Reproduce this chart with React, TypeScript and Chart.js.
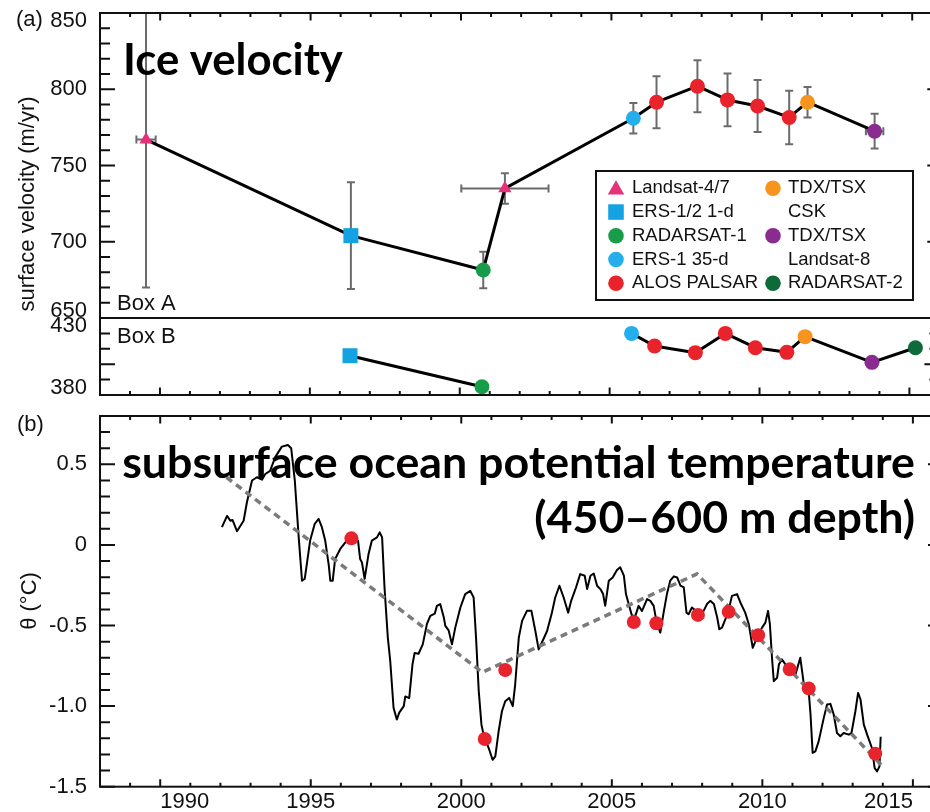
import { useEffect, useRef } from 'react';
import { Chart, registerables } from 'chart.js';

Chart.register(...registerables);

const FONT = '"Liberation Sans", Arial, Helvetica, sans-serif';
const HEAVY = 'Lato, "Open Sans", "Noto Sans", sans-serif';

// ---------- shared time axis ----------
const YEAR_MIN = 1988;
const YEAR_MAX = 2016;
const YEAR_TICKS = [1990, 1995, 2000, 2005, 2010, 2015];

// ---------- sensors ----------
const SENSOR_NAMES = [
  'Landsat-4/7',
  'ERS-1/2 1-d',
  'RADARSAT-1',
  'ERS-1 35-d',
  'ALOS PALSAR',
  'TDX/TSX\nCSK',
  'TDX/TSX\nLandsat-8',
  'RADARSAT-2',
];
const SENSOR_COLORS = ['#e6307a', '#14a2e2', '#179c4a', '#25aeec', '#e8232b', '#f7941d', '#8a2b8f', '#0e6a39'];
const SENSOR_SHAPES = ['triangle', 'rect', 'circle', 'circle', 'circle', 'circle', 'circle', 'circle'];

// ---------- (a) surface velocity, Box A ----------
const BOX_A_YEARS = [1989.53, 1996.34, 2000.74, 2001.46, 2005.73, 2006.5, 2007.86, 2008.86, 2009.86, 2010.91, 2011.52, 2013.75];
const BOX_A_SPEED = [767, 704, 681.5, 735, 781, 791.5, 802, 793, 789, 781.5, 791.5, 772.5];
const BOX_A_SPEED_ERR = [97, 35, 12, 10, 10, 17, 17, 17.3, 17, 17.5, 10, 11.4];
const BOX_A_YEAR_ERR = [0.32, 0, 0, 1.45, 0, 0, 0, 0, 0, 0, 0, 0.29];
const BOX_A_SENSOR = [0, 1, 2, 0, 3, 4, 4, 4, 4, 4, 5, 6];
const BOX_A_TICKS = [650, 700, 750, 800, 850];

// ---------- (a) surface velocity, Box B ----------
const BOX_B_YEARS = [1996.34, 2000.74, 2005.73, 2006.5, 2007.86, 2008.86, 2009.86, 2010.91, 2011.52, 2013.75, 2015.2];
const BOX_B_SPEED = [405.5, 385.4, 420, 411.8, 407.5, 420, 410.7, 407.7, 417.9, 401.2, 410.7];
const BOX_B_SENSOR = [1, 2, 3, 4, 4, 4, 4, 4, 5, 6, 7];
const BOX_B_RUN = [0, 0, 1, 1, 1, 1, 1, 1, 1, 1, 1];
const BOX_B_TICKS = [380, 430];

// ---------- (b) subsurface ocean potential temperature ----------
const THETA_YEARS = [
  1992.05, 1992.22, 1992.33, 1992.4, 1992.55, 1992.77, 1992.88, 1993.05, 1993.21, 1993.38,
  1993.49, 1993.65, 1993.82, 1994.04, 1994.24, 1994.35, 1994.47, 1994.6, 1994.71, 1994.8,
  1994.98, 1995.13, 1995.26, 1995.37, 1995.48, 1995.6, 1995.65, 1995.73, 1995.81, 1995.98,
  1996.15, 1996.42, 1996.57, 1996.64, 1996.7, 1996.79, 1996.92, 1997.03, 1997.2, 1997.29,
  1997.37, 1997.45, 1997.56, 1997.64, 1997.75, 1997.86, 1997.94, 1998.09, 1998.14, 1998.27,
  1998.38, 1998.45, 1998.58, 1998.72, 1998.86, 1998.97, 1999.12, 1999.19, 1999.3, 1999.42,
  1999.47, 1999.58, 1999.69, 1999.8, 1999.97, 2000.13, 2000.3, 2000.41, 2000.49, 2000.58,
  2000.67, 2000.74, 2000.91, 2001.04, 2001.13, 2001.24, 2001.35, 2001.46, 2001.59, 2001.71,
  2001.79, 2001.91, 2002.02, 2002.18, 2002.33, 2002.46, 2002.57, 2002.7, 2002.85, 2003.01,
  2003.12, 2003.26, 2003.4, 2003.55, 2003.65, 2003.81, 2003.95, 2004.1, 2004.18, 2004.29,
  2004.4, 2004.51, 2004.62, 2004.71, 2004.78, 2004.9, 2005.03, 2005.17, 2005.28, 2005.4,
  2005.47, 2005.56, 2005.67, 2005.78, 2005.89, 2006.0, 2006.17, 2006.28, 2006.39, 2006.5,
  2006.61, 2006.72, 2006.83, 2006.94, 2007.06, 2007.17, 2007.28, 2007.39, 2007.48, 2007.55,
  2007.66, 2007.86, 2008.05, 2008.16, 2008.27, 2008.39, 2008.5, 2008.57, 2008.66, 2008.86,
  2008.99, 2009.16, 2009.27, 2009.43, 2009.55, 2009.68, 2009.82, 2009.99, 2010.1, 2010.19,
  2010.25, 2010.32, 2010.38, 2010.49, 2010.55, 2010.65, 2010.88, 2011.1, 2011.26, 2011.38,
  2011.54, 2011.6, 2011.67, 2011.76, 2011.87, 2012.04, 2012.15, 2012.26, 2012.37, 2012.48,
  2012.59, 2012.7, 2012.87, 2012.96, 2013.09, 2013.18, 2013.26, 2013.37, 2013.48, 2013.64,
  2013.73, 2013.81, 2013.89, 2013.93,
];
const THETA = [
  0.11, 0.18, 0.15, 0.155, 0.085, 0.15, 0.265, 0.4, 0.42, 0.405,
  0.44, 0.46, 0.545, 0.61, 0.62, 0.6, 0.4, 0.047, -0.222, -0.21,
  0.027, 0.13, 0.162, 0.11, 0.027, -0.129, -0.222, -0.222, -0.087, -0.025,
  0.016, 0.047, 0.027, -0.087, -0.108, -0.21, -0.056, 0.027, 0.047, 0.078,
  0.047, -0.264, -0.575, -0.72, -1.01, -1.083, -1.04, -1.0, -0.94, -0.95,
  -0.74, -0.67, -0.675, -0.617, -0.49, -0.44, -0.426, -0.378, -0.367, -0.45,
  -0.502, -0.53, -0.617, -0.513, -0.388, -0.305, -0.285, -0.326, -0.575, -0.907,
  -1.115, -1.177, -1.26, -1.333, -1.312, -1.156, -1.032, -0.97, -0.949, -1.0,
  -0.866, -0.575, -0.471, -0.409, -0.409, -0.534, -0.648, -0.596, -0.534, -0.42,
  -0.326, -0.253, -0.326, -0.42, -0.347, -0.264, -0.181, -0.191, -0.274, -0.191,
  -0.177, -0.253, -0.274, -0.305, -0.378, -0.222, -0.202, -0.156, -0.139, -0.191,
  -0.305, -0.367, -0.44, -0.44, -0.378, -0.41, -0.336, -0.347, -0.378, -0.492,
  -0.544, -0.42, -0.305, -0.222, -0.195, -0.202, -0.253, -0.264, -0.42, -0.43,
  -0.388, -0.42, -0.409, -0.367, -0.347, -0.367, -0.45, -0.523, -0.513, -0.42,
  -0.316, -0.305, -0.357, -0.42, -0.492, -0.638, -0.575, -0.513, -0.482, -0.409,
  -0.492, -0.7, -0.845, -0.824, -0.741, -0.71, -0.772, -0.803, -0.7, -0.866,
  -0.907, -1.052, -1.29, -1.281, -1.219, -1.073, -0.99, -0.986, -1.052, -1.167,
  -1.187, -1.167, -1.177, -1.167, -1.032, -0.918, -0.959, -1.115, -1.177, -1.26,
  -1.385, -1.405, -1.374, -1.19,
];
const TREND_YEARS = [1992.2, 2000.7, 2007.83, 2013.98];
const TREND = [0.42, -0.79, -0.18, -1.37];
const SAMPLE_YEARS = [1996.35, 2000.78, 2001.46, 2005.73, 2006.48, 2007.86, 2008.88, 2009.86, 2010.91, 2011.54, 2013.75];
const SAMPLE_THETA = [0.041, -1.204, -0.776, -0.478, -0.486, -0.434, -0.415, -0.56, -0.772, -0.89, -1.295];
const THETA_TICKS = [-1.5, -1.0, -0.5, 0, 0.5];
const THETA_TICK_LABELS = ['-1.5', '-1.0', '-0.5', '0', '0.5'];

// ---------- page geometry ----------
const CANVAS_W = 950; // the right frame edge sits just past the visible page
const FRAME_LEFT = 100;
const FRAME_RIGHT = 943;
const A_TOP = 13;
const A_BOTTOM = 318;
const B_BOTTOM = 395;
const T_TOP = 416;
const T_BOTTOM = 786.7;
const SHORT_H = 812;
const TALL_H = 830;
const X_TICK_PAD = 2;
const X_LABEL_BAND = 22 * 1.2 + 2 * X_TICK_PAD;

const MARK_R: Record<string, number> = { triangle: 7.7, rect: 10.6, circle: 7.5 };
const LEGEND_R: Record<string, number> = { triangle: 9.5, rect: 11, circle: 7.8 };
const ERR_CAP = 4;

function shapePath(ctx: CanvasRenderingContext2D, shape: string, x: number, y: number, r: number) {
  ctx.beginPath();
  if (shape === 'triangle') {
    const k = (2 * Math.PI) / 3;
    for (let i = 0; i < 3; i++) {
      const a = i * k;
      const px = x + Math.sin(a) * r;
      const py = y - Math.cos(a) * r;
      if (i === 0) ctx.moveTo(px, py);
      else ctx.lineTo(px, py);
    }
    ctx.closePath();
  } else if (shape === 'rect') {
    const s = r * Math.SQRT1_2;
    ctx.rect(x - s, y - s, 2 * s, 2 * s);
  } else {
    ctx.arc(x, y, r, 0, Math.PI * 2);
  }
}

function text(ctx: CanvasRenderingContext2D, s: string, x: number, y: number, align: CanvasTextAlign = 'left', size = 22) {
  ctx.font = `${size}px ${FONT}`;
  ctx.fillStyle = '#111';
  ctx.textAlign = align;
  ctx.textBaseline = 'middle';
  ctx.fillText(s, x, y);
}

function rotatedText(ctx: CanvasRenderingContext2D, s: string, x: number, y: number) {
  ctx.save();
  ctx.translate(x, y);
  ctx.rotate(-Math.PI / 2);
  text(ctx, s, 0, 0, 'center');
  ctx.restore();
}

function fittedBold(ctx: CanvasRenderingContext2D, s: string, width: number) {
  ctx.font = `bold 100px ${HEAVY}`;
  return (100 * width) / ctx.measureText(s).width;
}

// y tick labels kept inside their own panel
function panelYLabels(chart: any, values: number[]) {
  const { ctx, chartArea: a } = chart;
  const y = chart.scales.y;
  const half = 7.5;
  values.forEach((v) => {
    const py = Math.min(Math.max(y.getPixelForValue(v), a.top + half), a.bottom - half);
    text(ctx, String(v), a.left - 13, py, 'right');
  });
}

// frame with inward tick marks on every side
function frameDecor(opts: { yStep: number; yMajor: number; xTop: boolean; xBottom: boolean; under?: (c: any) => void; over?: (c: any) => void }) {
  return {
    id: 'frameDecor',
    beforeDatasetsDraw(chart: any) {
      if (opts.under) opts.under(chart);
    },
    afterDraw(chart: any) {
      const { ctx, chartArea: a } = chart;
      const xs = chart.scales.x;
      const ys = chart.scales.y;
      ctx.save();
      ctx.strokeStyle = '#111';
      ctx.lineWidth = 2;
      ctx.strokeRect(a.left, a.top, a.right - a.left, a.bottom - a.top);
      ctx.beginPath();
      for (let yr = YEAR_MIN; yr <= YEAR_MAX; yr++) {
        const px = xs.getPixelForValue(yr);
        const len = YEAR_TICKS.includes(yr) ? 7.5 : 4;
        if (opts.xTop) {
          ctx.moveTo(px, a.top);
          ctx.lineTo(px, a.top + len);
        }
        if (opts.xBottom) {
          ctx.moveTo(px, a.bottom);
          ctx.lineTo(px, a.bottom - len);
        }
      }
      const n = Math.round((ys.max - ys.min) / opts.yStep);
      for (let k = 0; k <= n; k++) {
        const v = ys.min + k * opts.yStep;
        const q = v / opts.yMajor;
        const len = Math.abs(q - Math.round(q)) < 1e-6 ? 15 : 10;
        const py = ys.getPixelForValue(v);
        ctx.moveTo(a.left, py);
        ctx.lineTo(a.left + len, py);
        ctx.moveTo(a.right, py);
        ctx.lineTo(a.right - len, py);
      }
      ctx.stroke();
      ctx.restore();
      if (opts.over) opts.over(chart);
    },
  };
}

function drawErrorBars(chart: any) {
  const { ctx, chartArea: a } = chart;
  const x = chart.scales.x;
  const y = chart.scales.y;
  ctx.save();
  ctx.beginPath();
  ctx.rect(a.left, a.top, a.right - a.left, a.bottom - a.top);
  ctx.clip();
  ctx.strokeStyle = '#6b6b6b';
  ctx.lineWidth = 2;
  ctx.beginPath();
  BOX_A_YEARS.forEach((yr, i) => {
    const v = BOX_A_SPEED[i];
    const cx = x.getPixelForValue(yr);
    const cy = y.getPixelForValue(v);
    const dv = BOX_A_SPEED_ERR[i];
    if (dv) {
      const t = y.getPixelForValue(v + dv);
      const b = y.getPixelForValue(v - dv);
      ctx.moveTo(cx, t);
      ctx.lineTo(cx, b);
      ctx.moveTo(cx - ERR_CAP, t);
      ctx.lineTo(cx + ERR_CAP, t);
      ctx.moveTo(cx - ERR_CAP, b);
      ctx.lineTo(cx + ERR_CAP, b);
    }
    const dt = BOX_A_YEAR_ERR[i];
    if (dt) {
      const l = x.getPixelForValue(yr - dt);
      const r = x.getPixelForValue(yr + dt);
      ctx.moveTo(l, cy);
      ctx.lineTo(r, cy);
      ctx.moveTo(l, cy - ERR_CAP);
      ctx.lineTo(l, cy + ERR_CAP);
      ctx.moveTo(r, cy - ERR_CAP);
      ctx.lineTo(r, cy + ERR_CAP);
    }
  });
  ctx.stroke();
  ctx.restore();
}

function drawLegend(ctx: CanvasRenderingContext2D) {
  const L = 596;
  const T = 171;
  const R = 913;
  const B = 300;
  ctx.save();
  ctx.fillStyle = '#fff';
  ctx.fillRect(L, T, R - L, B - T);
  ctx.strokeStyle = '#111';
  ctx.lineWidth = 2;
  ctx.strokeRect(L, T, R - L, B - T);
  const rowY = (r: number) => 188.3 + r * 23.75;
  const columns = [
    { mark: 616, label: 632, sensors: [0, 1, 2, 3, 4] },
    { mark: 773, label: 788, sensors: [5, 6, 7] },
  ];
  columns.forEach((col) => {
    let row = 0;
    col.sensors.forEach((s) => {
      const shape = SENSOR_SHAPES[s];
      ctx.fillStyle = SENSOR_COLORS[s];
      shapePath(ctx, shape, col.mark, rowY(row) + (shape === 'triangle' ? 1.5 : 0), LEGEND_R[shape]);
      ctx.fill();
      SENSOR_NAMES[s].split('\n').forEach((line) => {
        text(ctx, line, col.label, rowY(row), 'left', 18.5);
        row += 1;
      });
    });
  });
  ctx.restore();
}

function pointsFor(years: number[], values: number[]) {
  return years.map((x, i) => ({ x, y: values[i] }));
}

function baseOptions(top: number, bottom: number, height: number, yMin: number, yMax: number) {
  return {
    responsive: false,
    animation: false,
    events: [],
    layout: { padding: { left: FRAME_LEFT, right: CANVAS_W - FRAME_RIGHT, top, bottom: height - bottom } },
    scales: {
      x: { type: 'linear', min: YEAR_MIN, max: YEAR_MAX, display: false },
      y: { type: 'linear', min: yMin, max: yMax, display: false },
    },
    plugins: { legend: { display: false }, tooltip: { enabled: false } },
  };
}

function boxAConfig(): any {
  return {
    type: 'line',
    data: {
      datasets: [
        {
          data: pointsFor(BOX_A_YEARS, BOX_A_SPEED),
          borderColor: '#000',
          borderWidth: 3,
          borderJoinStyle: 'round',
          pointStyle: BOX_A_SENSOR.map((s) => SENSOR_SHAPES[s]),
          pointRadius: BOX_A_SENSOR.map((s) => MARK_R[SENSOR_SHAPES[s]]),
          pointBackgroundColor: BOX_A_SENSOR.map((s) => SENSOR_COLORS[s]),
          pointBorderWidth: 0,
          clip: false,
        },
      ],
    },
    options: baseOptions(A_TOP, A_BOTTOM, SHORT_H, 650, 850),
    plugins: [
      frameDecor({
        yStep: 10,
        yMajor: 50,
        xTop: true,
        xBottom: false,
        under: drawErrorBars,
        over: (chart: any) => {
          const ctx = chart.ctx as CanvasRenderingContext2D;
          panelYLabels(chart, BOX_A_TICKS);
          text(ctx, '(a)', 16, 20);
          rotatedText(ctx, 'surface velocity (m/yr)', 28, (A_TOP + B_BOTTOM) / 2);
          text(ctx, 'Box A', 117, 304);
          const size = fittedBold(ctx, 'Ice velocity', 220);
          ctx.font = `bold ${size}px ${HEAVY}`;
          ctx.fillStyle = '#000';
          ctx.textAlign = 'left';
          ctx.textBaseline = 'alphabetic';
          ctx.fillText('Ice velocity', 123, 75);
          drawLegend(ctx);
        },
      }),
    ],
  };
}

function boxBConfig(): any {
  const runs = Array.from(new Set(BOX_B_RUN));
  return {
    type: 'line',
    data: {
      datasets: runs.map((run) => {
        const idx = BOX_B_RUN.map((r, i) => (r === run ? i : -1)).filter((i) => i >= 0);
        return {
          data: idx.map((i) => ({ x: BOX_B_YEARS[i], y: BOX_B_SPEED[i] })),
          borderColor: '#000',
          borderWidth: 3,
          borderJoinStyle: 'round',
          pointStyle: idx.map((i) => SENSOR_SHAPES[BOX_B_SENSOR[i]]),
          pointRadius: idx.map((i) => MARK_R[SENSOR_SHAPES[BOX_B_SENSOR[i]]]),
          pointBackgroundColor: idx.map((i) => SENSOR_COLORS[BOX_B_SENSOR[i]]),
          pointBorderWidth: 0,
          clip: false,
        };
      }),
    },
    options: baseOptions(A_BOTTOM, B_BOTTOM, SHORT_H, 380, 430),
    plugins: [
      frameDecor({
        yStep: 10,
        yMajor: 50,
        xTop: false,
        xBottom: true,
        over: (chart: any) => {
          panelYLabels(chart, BOX_B_TICKS);
          text(chart.ctx, 'Box B', 117, 337);
        },
      }),
    ],
  };
}

function thetaConfig(): any {
  const tickFont = { family: FONT, size: 22 };
  return {
    type: 'line',
    data: {
      datasets: [
        {
          data: pointsFor(SAMPLE_YEARS, SAMPLE_THETA),
          showLine: false,
          pointRadius: 7,
          pointBackgroundColor: '#e8232b',
          pointBorderWidth: 0,
          clip: false,
        },
        {
          data: pointsFor(TREND_YEARS, TREND),
          borderColor: '#7b7b7b',
          borderWidth: 3.5,
          borderDash: [7, 5],
          pointRadius: 0,
        },
        {
          data: pointsFor(THETA_YEARS, THETA),
          borderColor: '#000',
          borderWidth: 2,
          borderJoinStyle: 'round',
          pointRadius: 0,
        },
      ],
    },
    options: {
      responsive: false,
      animation: false,
      events: [],
      layout: { padding: { left: 0, right: CANVAS_W - FRAME_RIGHT, top: T_TOP, bottom: TALL_H - T_BOTTOM - X_LABEL_BAND } },
      scales: {
        x: {
          type: 'linear',
          min: YEAR_MIN,
          max: YEAR_MAX,
          afterBuildTicks: (s: any) => {
            s.ticks = YEAR_TICKS.map((value) => ({ value }));
          },
          grid: { display: false, drawTicks: false },
          border: { display: false },
          ticks: {
            align: 'inner',
            padding: X_TICK_PAD,
            autoSkip: false,
            maxRotation: 0,
            color: '#111',
            font: tickFont,
            callback: (v: number) => String(v),
          },
        },
        y: {
          type: 'linear',
          min: -1.5,
          max: 0.8,
          afterBuildTicks: (s: any) => {
            s.ticks = THETA_TICKS.map((value) => ({ value }));
          },
          afterFit: (s: any) => {
            s.width = FRAME_LEFT;
          },
          grid: { display: false, drawTicks: false },
          border: { display: false },
          ticks: {
            padding: 13,
            color: '#111',
            font: tickFont,
            callback: (v: number) => THETA_TICK_LABELS[THETA_TICKS.indexOf(v)],
          },
        },
      },
      plugins: { legend: { display: false }, tooltip: { enabled: false } },
    },
    plugins: [
      frameDecor({
        yStep: 0.1,
        yMajor: 0.5,
        xTop: true,
        xBottom: true,
        over: (chart: any) => {
          const ctx = chart.ctx as CanvasRenderingContext2D;
          text(ctx, '(b)', 17, 425);
          rotatedText(ctx, 'θ (°C)', 30, 601);
          const line1 = 'subsurface ocean potential temperature';
          const line2 = '(450–600 m depth)';
          const size = fittedBold(ctx, line1, 793);
          ctx.font = `bold ${size}px ${HEAVY}`;
          ctx.fillStyle = '#000';
          ctx.textBaseline = 'alphabetic';
          ctx.textAlign = 'right';
          ctx.fillText(line1, 915, 478);
          ctx.fillText(line2, 915, 533);
        },
      }),
    ],
  };
}

export default function App() {
  const refA = useRef<HTMLCanvasElement>(null);
  const refB = useRef<HTMLCanvasElement>(null);
  const refT = useRef<HTMLCanvasElement>(null);

  useEffect(() => {
    const charts = [
      new Chart(refT.current as HTMLCanvasElement, thetaConfig()),
      new Chart(refB.current as HTMLCanvasElement, boxBConfig()),
      new Chart(refA.current as HTMLCanvasElement, boxAConfig()),
    ];
    return () => charts.forEach((c) => c.destroy());
  }, []);

  const layer = { position: 'absolute' as const, left: 0, top: 0 };
  return (
    <div style={{ position: 'fixed', left: 0, top: 0, width: 930, height: 812, overflow: 'hidden', background: '#fff' }}>
      <canvas ref={refT} width={CANVAS_W} height={TALL_H} style={layer} />
      <canvas ref={refB} width={CANVAS_W} height={SHORT_H} style={layer} />
      <canvas ref={refA} width={CANVAS_W} height={SHORT_H} style={layer} />
    </div>
  );
}
